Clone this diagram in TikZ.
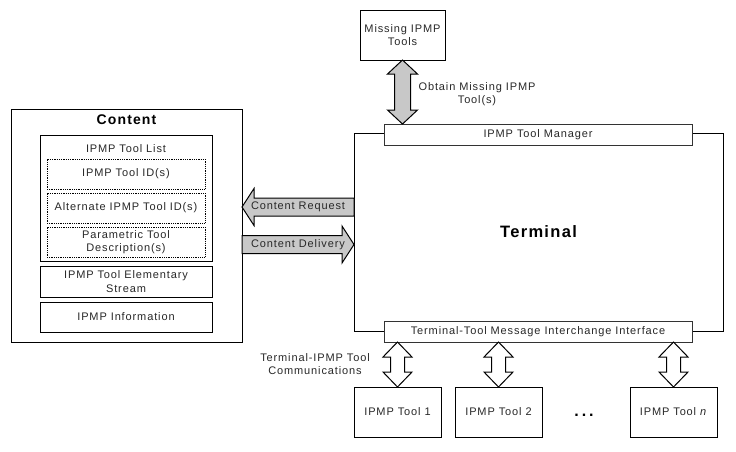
\documentclass[tikz,border=0pt]{standalone}
\usepackage{fontspec}
\setmainfont{Liberation Sans}[LetterSpace=8]
\usetikzlibrary{calc}
\definecolor{arrowgray}{RGB}{200,200,200}
\definecolor{txt}{RGB}{40,40,40}
\newcommand{\vdblarrow}[6]{\draw[blk, fill=#3] (#1) -- ($(#1)+(#4,#6)$) -- ($(#1)+(#5,#6)$) -- ($(#2)+(#5,-#6)$) -- ($(#2)+(#4,-#6)$) -- (#2) -- ($(#2)+(-#4,-#6)$) -- ($(#2)+(-#5,-#6)$) -- ($(#1)+(-#5,#6)$) -- ($(#1)+(-#4,#6)$) -- cycle;}
\tikzset{
 box/.style={draw=black, line width=1pt, fill=white, inner sep=0pt, outer sep=0pt, align=center, font=\fontsize{11}{13.5}\selectfont, text=txt},
 dotbox/.style={box, dash pattern=on 1pt off 0.8pt},
 thinbox/.style={box, draw=black!80, line width=0.8pt},
 lbl/.style={inner sep=0pt, align=center, font=\fontsize{11}{13}\selectfont, text=txt},
 blk/.style={draw=black, line width=1pt, line join=miter},
}
\begin{document}
\begin{tikzpicture}[x=1pt,y=-1pt]
\useasboundingbox (0,0) rectangle (736,451);
% Content side
\node[box, minimum width=231, minimum height=233] (content) at (126.5,225.5) {};
\node[lbl, font=\bfseries\fontsize{14}{14}\selectfont, text=black] (ctitle) at (126.5,120) {Content};
\node[box, minimum width=172, minimum height=126] (list) at (126,198) {};
\node[lbl] (listlbl) at (126,149) {IPMP Tool List};
\node[dotbox, minimum width=158, minimum height=30] (ids) at (126,174) {IPMP Tool ID(s)};
\node[dotbox, minimum width=158, minimum height=30] (alt) at (126,208) {Alternate IPMP Tool ID(s)};
\node[dotbox, minimum width=158, minimum height=30] (param) at (126,242) {Parametric Tool\\Description(s)};
\node[box, minimum width=172, minimum height=31] (elem) at (126,281.5) {IPMP Tool Elementary\\Stream};
\node[box, minimum width=172, minimum height=30] (info) at (126,317) {IPMP Information};
% Terminal side
\node[box, minimum width=369, minimum height=198, font=\bfseries\fontsize{16.5}{16.5}\selectfont, text=black] (terminal) at (538.5,232) {Terminal};
\node[thinbox, minimum width=308, minimum height=21] (manager) at (538,134.5) {IPMP Tool Manager};
\node[thinbox, minimum width=308, minimum height=21] (iface) at (538,331.5) {Terminal-Tool Message Interchange Interface};
\node[box, minimum width=85, minimum height=50] (missing) at (402.5,35) {Missing IPMP\\Tools};
\node[box, minimum width=87, minimum height=50] (tool1) at (397.5,412) {IPMP Tool 1};
\node[box, minimum width=87, minimum height=50] (tool2) at (498.5,412) {IPMP Tool 2};
\node[box, minimum width=87, minimum height=50] (tooln) at (673.5,412) {IPMP Tool \textit{n}};
\node[lbl, font=\bfseries\fontsize{16}{16}\selectfont, text=black] (dots) at (584,415) {.\hspace{3pt}.\hspace{3pt}.};
% vertical double arrows
\coordinate (mgtop) at (missing.south |- manager.north);
\vdblarrow{missing.south}{mgtop}{arrowgray}{15}{8}{14}
\coordinate (t1top) at (tool1.north |- iface.south);
\coordinate (t2top) at (tool2.north |- iface.south);
\coordinate (tntop) at (tooln.north |- iface.south);
\vdblarrow{t1top}{tool1.north}{white}{14.5}{7}{15}
\vdblarrow{t2top}{tool2.north}{white}{14.5}{7}{15}
\vdblarrow{tntop}{tooln.north}{white}{14.5}{7}{15}
% horizontal arrows
\coordinate (req) at (298,207);
\coordinate (reqtip) at (content.east |- req);
\coordinate (reqtail) at (terminal.west |- req);
\draw[blk, fill=arrowgray] (reqtip) -- ($(reqtip)+(12,-18.5)$) -- ($(reqtip)+(12,-9)$) -- ($(reqtail)+(0,-9)$) -- ($(reqtail)+(0,9)$) -- ($(reqtip)+(12,9)$) -- ($(reqtip)+(12,18.5)$) -- cycle;
\node[lbl] (reqtxt) at (req) {Content Request};
\coordinate (del) at (298,244.5);
\coordinate (deltip) at (terminal.west |- del);
\coordinate (deltail) at (content.east |- del);
\draw[blk, fill=arrowgray] (deltip) -- ($(deltip)+(-12,-18.5)$) -- ($(deltip)+(-12,-9)$) -- ($(deltail)+(0,-9)$) -- ($(deltail)+(0,9)$) -- ($(deltip)+(-12,9)$) -- ($(deltip)+(-12,18.5)$) -- cycle;
\node[lbl] (deltxt) at (del) {Content Delivery};
% labels
\node[lbl] (obtain) at (477,94.5) {Obtain Missing IPMP\\Tool(s)};
\node[lbl] (comm) at (315,364.5) {Terminal-IPMP Tool\\Communications};
\end{tikzpicture}
\end{document}
